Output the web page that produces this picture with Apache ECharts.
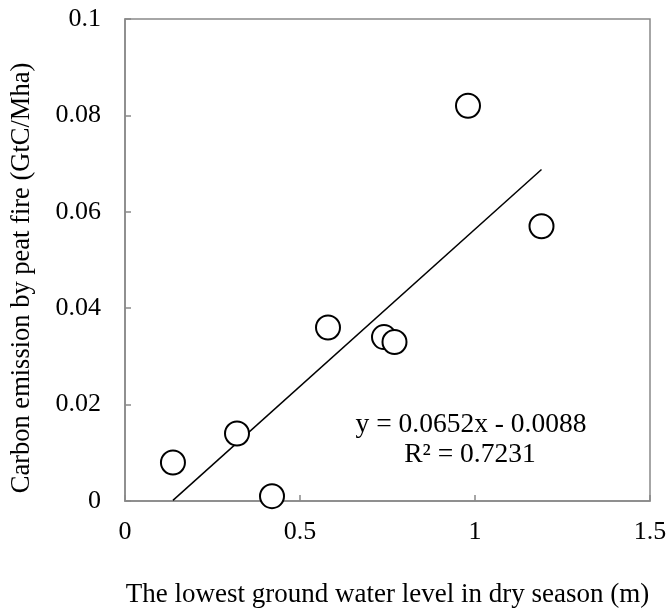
<!DOCTYPE html>
<html>
<head>
<meta charset="utf-8">
<script src="https://cdn.jsdelivr.net/npm/echarts@6/dist/echarts.min.js"></script>
<style>html,body{margin:0;padding:0;background:#fff}#c{width:667px;height:610px}</style>
</head>
<body>
<div id="c"></div>
<script>
var waterLevel = [0.137, 0.32, 0.42, 0.58, 0.74, 0.77, 0.98, 1.19];
var emission = [0.008, 0.014, 0.001, 0.036, 0.034, 0.033, 0.082, 0.057];
var slope = 0.0652;
var intercept = -0.0088;
var trendX = [0.137, 1.19];
var eqText = 'y = 0.0652x - 0.0088';
var r2Text = 'R² = 0.7231';
var xTitle = 'The lowest ground water level in dry season (m)';
var yTitle = 'Carbon emission by peat fire (GtC/Mha)';

var pts = waterLevel.map(function (x, i) { return [x, emission[i]]; });
var trend = trendX.map(function (x) { return [x, slope * x + intercept]; });
var font = '"Liberation Serif", "Times New Roman", serif';
var axisColor = '#898989';

var chart = echarts.init(document.getElementById('c'));
chart.setOption({
  animation: false,
  grid: { left: 125, right: 17, top: 19, bottom: 109, show: true, borderColor: axisColor, borderWidth: 1.5, outerBoundsMode: 'none', containLabel: false },
  xAxis: {
    type: 'value', min: 0, max: 1.5, interval: 0.5,
    name: xTitle,
    nameLocation: 'middle', nameGap: 80,
    nameTextStyle: { fontFamily: font, fontSize: 27, color: '#000' },
    axisLine: { show: true, lineStyle: { color: axisColor, width: 1.5 } },
    axisTick: { show: true, inside: true, length: 6, lineStyle: { color: axisColor, width: 1.5 } },
    axisLabel: { fontFamily: font, fontSize: 26, color: '#000', margin: 18 },
    splitLine: { show: false }
  },
  yAxis: {
    type: 'value', min: 0, max: 0.1, interval: 0.02,
    axisLine: { show: true, lineStyle: { color: axisColor, width: 1.5 } },
    axisTick: { show: true, inside: true, length: 6, lineStyle: { color: axisColor, width: 1.5 } },
    axisLabel: { fontFamily: font, fontSize: 26, color: '#000', margin: 24 },
    splitLine: { show: false }
  },
  series: [
    {
      type: 'line', data: trend, symbol: 'none', z: 1,
      lineStyle: { color: '#000', width: 1.5 }
    },
    {
      type: 'scatter', data: pts, symbol: 'circle', symbolSize: 24, z: 2,
      itemStyle: { color: '#fff', borderColor: '#000', borderWidth: 2, opacity: 1 }
    }
  ],
  graphic: [
    { type: 'text', x: 22, y: 278, rotation: Math.PI / 2, style: { text: yTitle, font: '26.5px ' + font, fill: '#000', align: 'center', verticalAlign: 'middle' } },
    { type: 'text', x: 471, y: 425, style: { text: eqText, font: '27.5px ' + font, fill: '#000', align: 'center', verticalAlign: 'middle' } },
    { type: 'text', x: 470, y: 455, style: { text: r2Text, font: '27.5px ' + font, fill: '#000', align: 'center', verticalAlign: 'middle' } }
  ]
});
</script>
</body>
</html>
